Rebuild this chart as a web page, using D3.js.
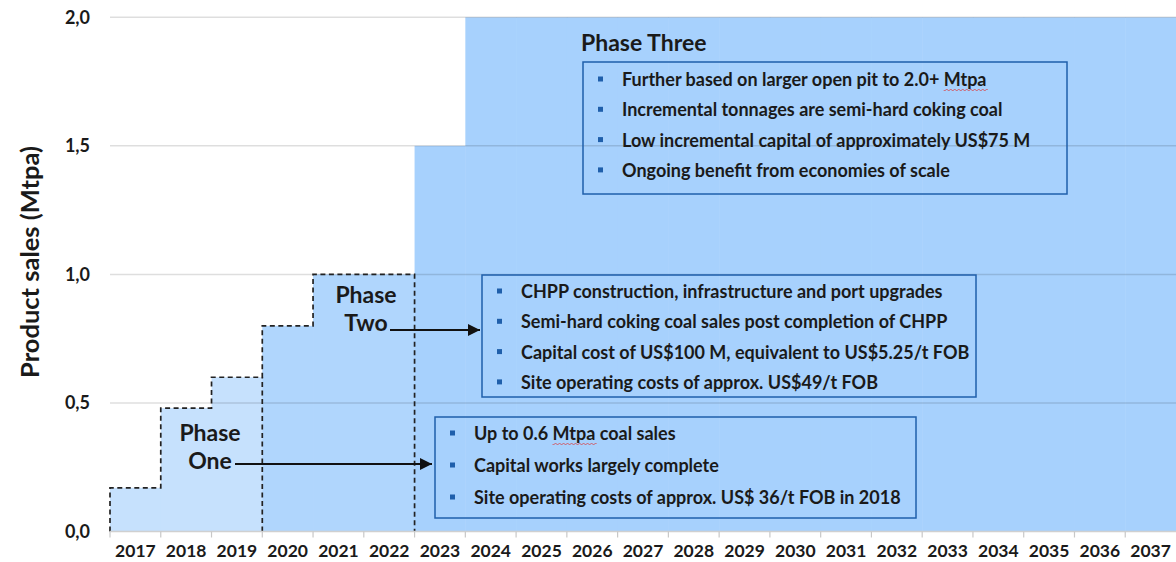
<!DOCTYPE html>
<html>
<head>
<meta charset="utf-8">
<script src="https://cdn.jsdelivr.net/npm/d3@7"></script>
<style>
  body { margin: 0; background: #fff; }
  text { font-family: Lato, "Open Sans", sans-serif; font-weight: 700; fill: #1a1a1a; }
</style>
</head>
<body>
<div id="chart"></div>
<script>
const years = ['2017', '2018', '2019', '2020', '2021', '2022', '2023', '2024', '2025', '2026',
  '2027', '2028', '2029', '2030', '2031', '2032', '2033', '2034', '2035', '2036', '2037'];

const phaseOneYears = ['2017', '2018', '2019'];
const phaseOneValues = [0.17, 0.48, 0.6];

const phaseTwoYears = ['2020', '2021', '2022'];
const phaseTwoValues = [0.8, 1.0, 1.0];

const phaseThreeYears = ['2023', '2024', '2025', '2026', '2027', '2028', '2029', '2030',
  '2031', '2032', '2033', '2034', '2035', '2036', '2037'];
const phaseThreeValues = [1.5, 2.0, 2.0, 2.0, 2.0, 2.0, 2.0, 2.0, 2.0, 2.0, 2.0, 2.0, 2.0, 2.0, 2.0];

const yTicks = [0, 0.5, 1.0, 1.5, 2.0];

const phaseThreeNotes = [
  'Further based on larger open pit to 2.0+ Mtpa',
  'Incremental tonnages are semi-hard coking coal',
  'Low incremental capital of approximately US$75 M',
  'Ongoing benefit from economies of scale'
];
const phaseTwoNotes = [
  'CHPP construction, infrastructure and port upgrades',
  'Semi-hard coking coal sales post completion of CHPP',
  'Capital cost of US$100 M, equivalent to US$5.25/t FOB',
  'Site operating costs of approx. US$49/t FOB'
];
const phaseOneNotes = [
  'Up to 0.6 Mtpa coal sales',
  'Capital works largely complete',
  'Site operating costs of approx. US$ 36/t FOB in 2018'
];

const width = 1176;
const height = 562;

const svg = d3.select('#chart')
  .append('svg')
  .attr('width', width)
  .attr('height', height);

const x = d3.scaleBand()
  .domain(years)
  .range([110, 1176])
  .padding(0);

const y = d3.scaleLinear()
  .domain([0, 2])
  .range([531.5, 17.3]);

const fmt = d3.formatLocale({ decimal: ',', thousands: '.', grouping: [3], currency: ['', ''] }).format('.1f');

// filled areas
function bars(ys, vals, colour) {
  svg.append('g')
    .attr('fill', colour)
    .selectAll('rect')
    .data(ys.map((d, i) => ({ year: d, value: vals[i] })))
    .join('rect')
      .attr('x', d => x(d.year))
      .attr('y', d => y(d.value))
      .attr('width', x.bandwidth() + 0.5)
      .attr('height', d => y(0) - y(d.value));
}
bars(phaseOneYears, phaseOneValues, '#c6e1fd');
bars(phaseTwoYears, phaseTwoValues, '#b0d6fd');
bars(phaseThreeYears, phaseThreeValues, '#a7d1fd');

// gridlines
svg.append('g')
  .selectAll('line')
  .data(yTicks.filter(d => d > 0))
  .join('line')
    .attr('x1', 110)
    .attr('x2', width)
    .attr('y1', d => y(d))
    .attr('y2', d => y(d))
    .attr('stroke', 'rgba(0,0,0,0.13)')
    .attr('stroke-width', 1.5);

// dashed outline over phase one and two
const stepVals = phaseOneValues.concat(phaseTwoValues);
const stepData = phaseOneYears.concat(phaseTwoYears).map((d, i) => ({ x: x(d), v: stepVals[i] }));
const last = stepData[stepData.length - 1];
const outline = [{ x: stepData[0].x, v: 0 }]
  .concat(stepData)
  .concat([{ x: last.x + x.bandwidth(), v: last.v }, { x: last.x + x.bandwidth(), v: 0 }]);

const dashed = { stroke: '#222', 'stroke-width': 1.7, 'stroke-dasharray': '5,3.5', fill: 'none' };

const stepLine = d3.line().x(d => d.x).y(d => y(d.v)).curve(d3.curveStepAfter);
const outlinePath = svg.append('path').attr('d', stepLine(outline));
Object.entries(dashed).forEach(([k, v]) => outlinePath.attr(k, v));

const splitPath = svg.append('line')
  .attr('x1', x(phaseTwoYears[0])).attr('x2', x(phaseTwoYears[0]))
  .attr('y1', y(0)).attr('y2', y(phaseOneValues[2]));
Object.entries(dashed).forEach(([k, v]) => splitPath.attr(k, v));

// x axis
svg.append('line')
  .attr('x1', 110).attr('x2', width)
  .attr('y1', y(0)).attr('y2', y(0))
  .attr('stroke', '#d0d0d0').attr('stroke-width', 1.5);

svg.append('g')
  .selectAll('line')
  .data(years)
  .join('line')
    .attr('x1', d => x(d)).attr('x2', d => x(d))
    .attr('y1', y(0)).attr('y2', y(0) + 6)
    .attr('stroke', '#c8c8c8').attr('stroke-width', 1.2);

svg.append('g')
  .attr('transform', `translate(0, ${y(0)})`)
  .call(d3.axisBottom(x).tickSize(0).tickPadding(13))
  .call(g => g.select('.domain').remove())
  .call(g => g.selectAll('text')
    .attr('font-size', '17.5px')
    .attr('fill', '#1a1a1a')
    .attr('font-family', 'Lato, sans-serif')
    .attr('font-weight', 700));

// y axis
svg.append('g')
  .attr('transform', 'translate(90, 0)')
  .call(d3.axisLeft(y).tickValues(yTicks).tickFormat(fmt).tickSize(0).tickPadding(0))
  .call(g => g.select('.domain').remove())
  .call(g => g.selectAll('text')
    .attr('font-size', '18px')
    .attr('fill', '#1a1a1a')
    .attr('font-family', 'Lato, sans-serif')
    .attr('font-weight', 700));

svg.append('text')
  .attr('transform', 'translate(29, 262) rotate(-90)')
  .attr('text-anchor', 'middle')
  .attr('dominant-baseline', 'central')
  .attr('font-size', '25.5px')
  .text('Product sales (Mtpa)');

// arrow marker
svg.append('defs').append('marker')
  .attr('id', 'arrow')
  .attr('viewBox', '0 0 10 10')
  .attr('refX', 10).attr('refY', 5)
  .attr('markerWidth', 6.5).attr('markerHeight', 6)
  .attr('markerUnits', 'strokeWidth')
  .attr('orient', 'auto')
  .append('path')
    .attr('d', 'M0,0 L10,5 L0,10 z')
    .attr('fill', '#111');

// phase labels
function phaseLabel(cx, lines, y0) {
  svg.append('text')
    .attr('text-anchor', 'middle')
    .attr('font-size', '23px')
    .selectAll('tspan')
    .data(lines)
    .join('tspan')
      .attr('x', cx)
      .attr('y', (d, i) => y0 + i * 28)
      .attr('dominant-baseline', 'central')
      .text(d => d);
}
phaseLabel(210, ['Phase', 'One'], 432);
phaseLabel(366, ['Phase', 'Two'], 294);

svg.append('line')
  .attr('x1', 235).attr('x2', 432).attr('y1', 464).attr('y2', 464)
  .attr('stroke', '#111').attr('stroke-width', 2).attr('marker-end', 'url(#arrow)');
svg.append('line')
  .attr('x1', 390).attr('x2', 480).attr('y1', 330).attr('y2', 330)
  .attr('stroke', '#111').attr('stroke-width', 2).attr('marker-end', 'url(#arrow)');

svg.append('text')
  .attr('x', 581).attr('y', 42)
  .attr('dominant-baseline', 'central')
  .attr('font-size', '23px')
  .text('Phase Three');

// note boxes
function noteBox(bx, by, bw, bh, notes, firstY, step) {
  const g = svg.append('g');
  g.append('rect')
    .attr('x', bx).attr('y', by).attr('width', bw).attr('height', bh)
    .attr('fill', 'none').attr('stroke', '#1f5fab').attr('stroke-width', 1.5);
  const items = g.selectAll('g.item')
    .data(notes)
    .join('g')
      .attr('class', 'item')
      .attr('transform', (d, i) => `translate(${bx}, ${firstY + i * step})`);
  items.append('rect')
    .attr('x', 15).attr('y', -2.5).attr('width', 5).attr('height', 5)
    .attr('fill', '#1f5fab');
  items.append('text')
    .attr('x', 39)
    .attr('dominant-baseline', 'central')
    .attr('font-size', '18px')
    .text(d => d);
  return items;
}

const b3 = noteBox(583, 62, 484, 132, phaseThreeNotes, 79, 30.3);
noteBox(482, 275, 494, 122, phaseTwoNotes, 291, 30.3);
const b1 = noteBox(435, 417, 481, 101, phaseOneNotes, 433, 32);

// spell-check squiggles under "Mtpa"
function squiggle(items, idx) {
  items.each(function (d, i) {
    if (i !== idx) return;
    const t = d3.select(this).select('text').node();
    const pos = d.indexOf('Mtpa');
    const x0 = 39 + t.getSubStringLength(0, pos);
    const w = t.getSubStringLength(pos, 4);
    let p = `M${x0},11`;
    for (let k = 0; k < w; k += 2) p += ` l1,${k % 4 === 0 ? 1 : -1} l1,${k % 4 === 0 ? -1 : 1}`;
    d3.select(this).append('path').attr('d', p)
      .attr('fill', 'none').attr('stroke', '#e03030').attr('stroke-width', 0.7);
  });
}
squiggle(b3, 0);
squiggle(b1, 0);
</script>
</body>
</html>
